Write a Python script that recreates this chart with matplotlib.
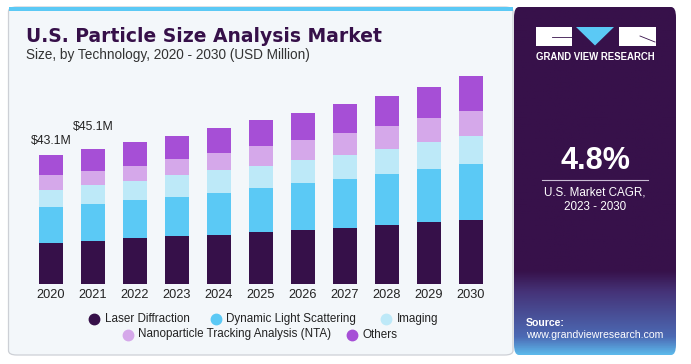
import numpy as np
import matplotlib
matplotlib.use("Agg")
import matplotlib.pyplot as plt
from matplotlib.patches import FancyBboxPatch, Rectangle, Polygon
from matplotlib.lines import Line2D

years = ["2020", "2021", "2022", "2023", "2024", "2025", "2026", "2027", "2028", "2029", "2030"]
laser = [13.9, 14.4, 15.4, 16.0, 16.4, 17.4, 18.0, 18.9, 19.7, 20.7, 21.3]
dls = [11.9, 12.4, 12.8, 13.2, 14.1, 14.6, 15.9, 16.2, 17.1, 17.9, 18.9]
imaging = [5.8, 6.2, 6.2, 7.1, 7.6, 7.5, 7.7, 8.1, 8.4, 9.0, 9.2]
nta = [4.7, 4.8, 5.1, 5.4, 5.8, 6.6, 6.5, 7.1, 7.6, 7.8, 8.3]
others = [6.8, 7.3, 7.8, 7.8, 8.3, 8.8, 9.1, 9.7, 10.1, 10.5, 11.8]
series_names = ["Laser Diffraction", "Dynamic Light Scattering", "Imaging",
                "Nanoparticle Tracking Analysis (NTA)", "Others"]
series_colors = ["#361049", "#5bc9f5", "#bde9f8", "#d5a8ea", "#a64fd6"]
total_labels = {0: "$43.1M", 1: "$45.1M"}

W, H = 691, 364
fig = plt.figure(figsize=(W / 100, H / 100), dpi=100)
fig.patch.set_facecolor("white")
plt.rcParams['font.family'] = ['Liberation Sans', 'DejaVu Sans']


def fx(x):
    return x / W


def fy(y):
    return 1 - y / H


# left panel
lp = FancyBboxPatch((fx(8.5), fy(355)), fx(513) - fx(8.5), fy(7) - fy(355),
                    boxstyle="round,pad=0,rounding_size=0.012",
                    transform=fig.transFigure, facecolor="#f3f7fa",
                    edgecolor="#cdd0d6", linewidth=0.9, zorder=0)
fig.add_artist(lp)
fig.add_artist(Rectangle((fx(9), fy(10.8)), fx(513) - fx(9), fy(6.8) - fy(10.8),
                         transform=fig.transFigure, facecolor="#5bc9f5",
                         edgecolor="none", zorder=1))

# right panel
rp_ax = fig.add_axes([fx(514), fy(355), fx(676) - fx(514), fy(7) - fy(355)])
rp_ax.set_xlim(0, 1)
rp_ax.set_ylim(0, 1)
rp_ax.axis("off")
grad = np.zeros((200, 2, 3))
top = np.array([0x37, 0x11, 0x4a]) / 255
mid = np.array([0x45, 0x33, 0x78]) / 255
low = np.array([0x4c, 0x6a, 0xb4]) / 255
bot = np.array([0x5c, 0xb8, 0xea]) / 255
for i in range(200):
    t = i / 199  # 0 top -> 1 bottom
    if t < 0.76:
        c = top
    elif t < 0.82:
        s = (t - 0.76) / 0.06
        c = top * (1 - s) + mid * s
    elif t < 0.95:
        s = (t - 0.82) / 0.13
        c = mid * (1 - s) + low * s
    else:
        s = (t - 0.95) / 0.05
        c = low * (1 - s) + bot * s
    grad[i, :, :] = c
im = rp_ax.imshow(grad, extent=[0, 1, 0, 1], aspect="auto", zorder=0)
clip = FancyBboxPatch((0, 0), 1, 1, boxstyle="round,pad=0,rounding_size=0.03",
                      transform=rp_ax.transAxes, facecolor="none", edgecolor="none")
rp_ax.add_patch(clip)
im.set_clip_path(clip)

# logo
fig.add_artist(Rectangle((fx(536), fy(45.5)), fx(572) - fx(536), fy(27) - fy(45.5),
                         transform=fig.transFigure, facecolor="white", edgecolor="none"))
fig.add_artist(Polygon([(fx(576), fy(27)), (fx(614), fy(27)), (fx(595), fy(45.5))],
                       closed=True, transform=fig.transFigure, facecolor="#5bc9f5",
                       edgecolor="none"))
fig.add_artist(Rectangle((fx(619), fy(45.5)), fx(655.5) - fx(619), fy(27) - fy(45.5),
                         transform=fig.transFigure, facecolor="white", edgecolor="none"))
fig.add_artist(Line2D([fx(552), fx(572)], [fy(37), fy(37)], transform=fig.transFigure,
                      color="#37114a", lw=0.6))
fig.add_artist(Line2D([fx(640), fx(655)], [fy(36), fy(42)], transform=fig.transFigure,
                      color="#37114a", lw=0.6))
fig.text(fx(595.5), fy(56.5), "GRAND VIEW RESEARCH", color="white", fontsize=6.9,
         fontweight="bold", ha="center", va="center")

fig.text(fx(595), fy(161), "4.8%", color="white", fontsize=22, fontweight="bold",
         ha="center", va="center")
fig.add_artist(Line2D([fx(542), fx(648)], [fy(180), fy(180)], transform=fig.transFigure,
                      color="#c9bcd3", lw=0.8))
fig.text(fx(595), fy(192.5), "U.S. Market CAGR,", color="white", fontsize=8.4,
         ha="center", va="center")
fig.text(fx(595), fy(207), "2023 - 2030", color="white", fontsize=8.4,
         ha="center", va="center")
fig.text(fx(526), fy(322.5), "Source:", color="white", fontsize=7.6, fontweight="bold",
         ha="left", va="center")
fig.text(fx(526), fy(334.5), "www.grandviewresearch.com", color="white", fontsize=7.6,
         ha="left", va="center")

# titles
fig.text(fx(25.5), fy(41.8), "U.S. Particle Size Analysis Market", color="#361049",
         fontsize=13.5, fontweight="bold", ha="left", va="baseline",
         family="DejaVu Sans")
fig.text(fx(25.5), fy(59.3), "Size, by Technology, 2020 - 2030 (USD Million)",
         color="#333333", fontsize=9.8, ha="left", va="baseline")

# chart
ax = fig.add_axes([fx(30), fy(284.3), fx(492) - fx(30), fy(44.3) - fy(284.3)])
ax.set_facecolor("none")
x = np.arange(len(years))
series = [laser, dls, imaging, nta, others]
bottom = np.zeros(len(years))
for vals, col in zip(series, series_colors):
    v = np.array(vals)
    ax.bar(x, v, bottom=bottom, width=0.57, color=col, edgecolor="none", zorder=2)
    bottom += v
ax.set_xlim(-0.5, len(years) - 0.5)
ax.set_ylim(0, 80)
ax.set_xticks(x)
ax.set_xticklabels(years, fontsize=9.2, color="#222222")
ax.tick_params(axis="x", length=0, pad=3.5)
ax.set_yticks([])
for s in ax.spines.values():
    s.set_visible(False)

offsets = {0: 11, 1: 19}
for i, lab in total_labels.items():
    ax.annotate(lab, (x[i], bottom[i]), xytext=(0, offsets[i]), textcoords="offset pixels",
                ha="center", va="baseline", fontsize=8.8, color="#222222")

# legend (manual)
leg_pos = [(94.3, 319), (215.7, 319), (386, 319), (128, 334.5), (352.3, 334.5)]
for (px, py), name, col in zip(leg_pos, series_names, series_colors):
    fig.add_artist(Line2D([fx(px)], [fy(py)], marker="o", markersize=7.5, color=col,
                          linestyle="none", transform=fig.transFigure))
    fig.text(fx(px + 10.5), fy(py), name, fontsize=8.4, color="#222222",
             ha="left", va="center")

fig.savefig("out.png", dpi=100, facecolor="white")
